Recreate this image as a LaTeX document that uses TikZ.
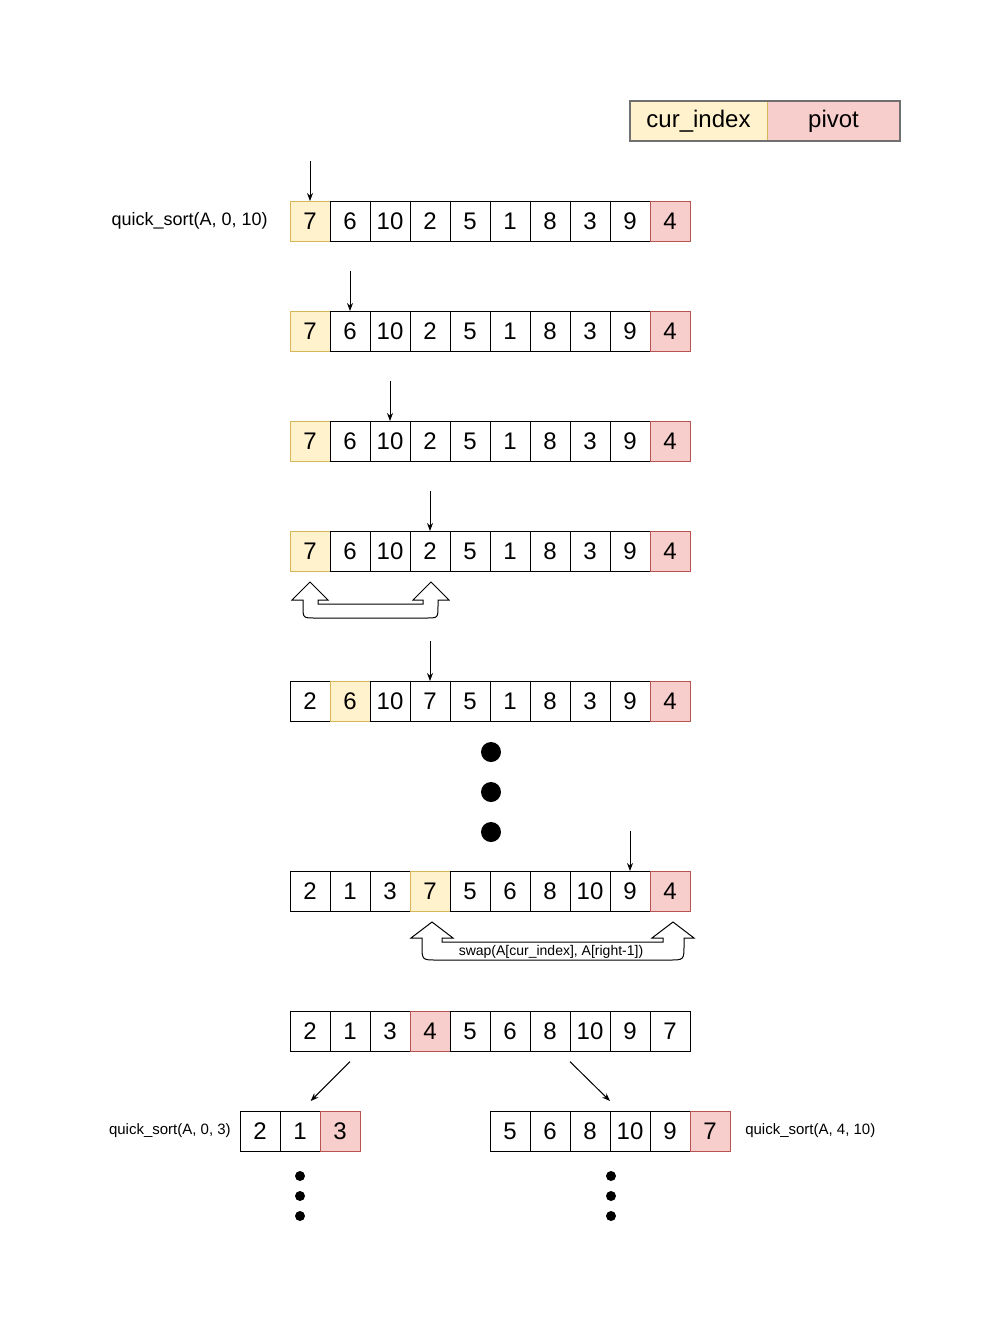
\documentclass[tikz,border=0pt]{standalone}
\usepackage{fontspec}
\setmainfont{Liberation Sans}
\usetikzlibrary{arrows.meta,positioning}

\definecolor{curfill}{HTML}{FFF2CC}
\definecolor{curline}{HTML}{D6B656}
\definecolor{pivfill}{HTML}{F8CECC}
\definecolor{pivline}{HTML}{B85450}
\definecolor{legline}{HTML}{707070}

% one row of array cells: prefix, left x, centre y, value/style list
\newcommand{\cellrow}[4]{%
  \foreach \v/\s [count=\i from 0] in {#4}
    \node[\s] (#1-\i) at ({#2+20+40*\i},#3) {\v};
}

\begin{document}
\begin{tikzpicture}[
            x=0.75pt, y=-0.75pt,
            cell/.style={draw, line width=0.75pt, minimum width=30pt, minimum height=30pt, inner sep=0pt, outer sep=0pt, font=\fontsize{18}{20}\selectfont},
            cur/.style={cell, fill=curfill, draw=curline},
            pivot/.style={cell, fill=pivfill, draw=pivline},
            legbox/.style={minimum height=30pt, inner sep=0pt, outer sep=0pt, font=\fontsize{18}{20}\selectfont},
            lbl/.style={inner sep=0pt, font=\fontsize{13.5}{15}\selectfont},
            smalllbl/.style={inner sep=0pt, font=\fontsize{11.25}{13}\selectfont},
            arrow/.style={-{Stealth[length=6pt, width=4.5pt]}, line width=0.75pt},
            uturn/.style={draw, line width=0.75pt, fill=white, line join=miter},
            bigdot/.style={circle, fill, inner sep=0pt, minimum size=15pt},
            smalldot/.style={circle, fill, inner sep=0pt, minimum size=7.5pt}
        ]
        \useasboundingbox (0,0) rectangle (1002,1322);

        % legend
        \node[legbox, fill=curfill, minimum width=102.75pt] (leg-cur) at (698.5,121) {cur\_index};
        \node[legbox, fill=pivfill, minimum width=99.75pt, right=0pt of leg-cur] (leg-piv) {pivot};
        \draw[curline, line width=0.5pt] (leg-cur.north east) -- (leg-cur.south east);
        \draw[legline, line width=1.5pt] (leg-cur.north west) rectangle (leg-piv.south east);

        % partition steps
        \cellrow{r1}{290}{221}{7/cur,6/cell,10/cell,2/cell,5/cell,1/cell,8/cell,3/cell,9/cell,4/pivot}
        \cellrow{r2}{290}{331}{7/cur,6/cell,10/cell,2/cell,5/cell,1/cell,8/cell,3/cell,9/cell,4/pivot}
        \cellrow{r3}{290}{441}{7/cur,6/cell,10/cell,2/cell,5/cell,1/cell,8/cell,3/cell,9/cell,4/pivot}
        \cellrow{r4}{290}{551}{7/cur,6/cell,10/cell,2/cell,5/cell,1/cell,8/cell,3/cell,9/cell,4/pivot}
        \cellrow{r5}{290}{701}{2/cell,6/cur,10/cell,7/cell,5/cell,1/cell,8/cell,3/cell,9/cell,4/pivot}
        \cellrow{r6}{290}{891}{2/cell,1/cell,3/cell,7/cur,5/cell,6/cell,8/cell,10/cell,9/cell,4/pivot}
        \cellrow{r7}{290}{1031}{2/cell,1/cell,3/cell,4/pivot,5/cell,6/cell,8/cell,10/cell,9/cell,7/cell}
        \cellrow{bl}{240}{1131}{2/cell,1/cell,3/pivot}
        \cellrow{br}{490}{1131}{5/cell,6/cell,8/cell,10/cell,9/cell,7/pivot}

        \node[lbl, left=16.5pt of r1-0] (call-top) {quick\_sort(A, 0, 10)};
        \node[smalllbl, left=6.75pt of bl-0] (call-left) {quick\_sort(A, 0, 3)};
        \node[smalllbl, right=11.25pt of br-5] (call-right) {quick\_sort(A, 4, 10)};

        % scan pointer
        \draw[arrow] ([yshift=30pt]r1-0.north) -- (r1-0.north);
        \draw[arrow] ([yshift=30pt]r2-1.north) -- (r2-1.north);
        \draw[arrow] ([yshift=30pt]r3-2.north) -- (r3-2.north);
        \draw[arrow] ([yshift=30pt]r4-3.north) -- (r4-3.north);
        \draw[arrow] ([yshift=30pt]r5-3.north) -- (r5-3.north);
        \draw[arrow] ([yshift=30pt]r6-8.north) -- (r6-8.north);

        % swap arrows
        \draw[uturn] (292,600) -- (310,582) -- (328,600) -- (318,600) -- (318,604) -- (423,604) -- (423,600)
            -- (413,600) -- (431,582) -- (449,600) -- (438,600) -- (438,606) .. controls (438,618) .. (426,618)
            -- (315,618) .. controls (303,618) .. (303,606) -- (303,600) -- cycle;
        \draw[uturn] (411,938) -- (432,922) -- (453,938) -- (442,938) -- (442,942) -- (663,942) -- (663,938)
            -- (652,938) -- (673,922) -- (694,938) -- (684,938) -- (684,945) .. controls (684,960) .. (669,960)
            -- (437,960) .. controls (422,960) .. (422,945) -- (422,938) -- cycle;
        \node[inner sep=0pt, font=\fontsize{10.5}{12}\selectfont] (swap) at (551,952) {swap(A[cur\_index], A[right-1])};

        % and so on
        \node[bigdot] (dot-1) at (491,752) {};
        \node[bigdot] (dot-2) at (491,792) {};
        \node[bigdot] (dot-3) at (491,832) {};

        % recursive calls
        \draw[arrow] ([yshift=-8pt]r7-1.south) -- ([xshift=8pt, yshift=7.5pt]bl-1.north);
        \draw[arrow] ([yshift=-8pt]r7-6.south east) -- ([yshift=7.5pt]br-2.north east);

        \node[smalldot] (ldot-1) at (300,1176) {};
        \node[smalldot] (ldot-2) at (300,1196) {};
        \node[smalldot] (ldot-3) at (300,1216) {};
        \node[smalldot] (rdot-1) at (611,1176) {};
        \node[smalldot] (rdot-2) at (611,1196) {};
        \node[smalldot] (rdot-3) at (611,1216) {};

    \end{tikzpicture}
\end{document}
